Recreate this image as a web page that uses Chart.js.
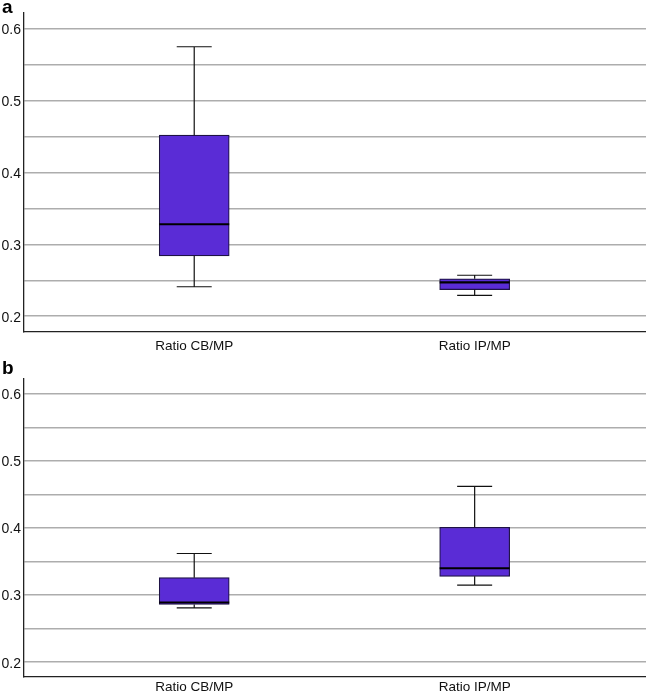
<!DOCTYPE html>
<html>
<head>
<meta charset="utf-8">
<script src="https://cdn.jsdelivr.net/npm/chart.js@4/dist/chart.umd.min.js"></script>
<style>
  html, body { margin: 0; padding: 0; background: #fff; }
  body { width: 646px; height: 695px; position: relative; overflow: hidden; font-family: "Liberation Sans", Arial, sans-serif; }
  .panel { position: absolute; left: 0; width: 646px; }
  .tag { position: absolute; left: 2px; font-weight: bold; font-size: 19px; line-height: 1; color: #000; }
  canvas { display: block; }
</style>
</head>
<body>
<div class="panel" style="top:0;height:356px;"><canvas id="chartA" width="646" height="356"></canvas></div>
<div class="panel" style="top:356px;height:339px;"><canvas id="chartB" width="646" height="339"></canvas></div>
<div class="tag" style="top:-3px;">a</div>
<div class="tag" style="top:358px;">b</div>

<script>
const categories = ['Ratio CB/MP', 'Ratio IP/MP'];

// panel a
const aMin = [0.241, 0.229];
const aQ1 = [0.284, 0.237];
const aMed = [0.328, 0.247];
const aQ3 = [0.452, 0.252];
const aMax = [0.575, 0.257];

// panel b
const bMin = [0.281, 0.315];
const bQ1 = [0.286, 0.328];
const bMed = [0.289, 0.340];
const bQ3 = [0.326, 0.401];
const bMax = [0.362, 0.462];

const yTicks = [0.2, 0.25, 0.3, 0.35, 0.4, 0.45, 0.5, 0.55, 0.6];
const yTickLabels = ['0.2', '', '0.3', '', '0.4', '', '0.5', '', '0.6'];

const boxFill = '#5a2cd6';
const boxLine = '#1e1245';

// whiskers + median drawn from the chart's own scales
const boxWhiskers = {
  id: 'boxWhiskers',
  afterDatasetsDraw(chart, args, opts) {
    const ctx = chart.ctx;
    const x = chart.scales.x, y = chart.scales.y;
    ctx.save();
    categories.forEach((c, i) => {
      const cx = x.getPixelForValue(i + 1);
      const half = 35, cap = 17.5;
      ctx.strokeStyle = '#111';
      ctx.lineWidth = 1.2;
      ctx.beginPath();
      // upper whisker
      ctx.moveTo(cx, y.getPixelForValue(opts.q3[i]));
      ctx.lineTo(cx, y.getPixelForValue(opts.max[i]));
      ctx.moveTo(cx - cap, y.getPixelForValue(opts.max[i]));
      ctx.lineTo(cx + cap, y.getPixelForValue(opts.max[i]));
      // lower whisker
      ctx.moveTo(cx, y.getPixelForValue(opts.q1[i]));
      ctx.lineTo(cx, y.getPixelForValue(opts.min[i]));
      ctx.moveTo(cx - cap, y.getPixelForValue(opts.min[i]));
      ctx.lineTo(cx + cap, y.getPixelForValue(opts.min[i]));
      ctx.stroke();
      // median
      ctx.lineWidth = 2.2;
      ctx.strokeStyle = '#000';
      ctx.beginPath();
      ctx.moveTo(cx - half, y.getPixelForValue(opts.med[i]));
      ctx.lineTo(cx + half, y.getPixelForValue(opts.med[i]));
      ctx.stroke();
    });
    ctx.restore();
  }
};

function makeChart(id, mins, q1s, meds, q3s, maxs, topPad, xHeight, labelPad) {
  const ctx = document.getElementById(id).getContext('2d');
  return new Chart(ctx, {
    type: 'bar',
    data: {
      datasets: [{
        data: categories.map((c, i) => ({ x: i + 1, y: [q1s[i], q3s[i]] })),
        backgroundColor: boxFill,
        borderColor: boxLine,
        borderWidth: 1.2,
        borderSkipped: false,
        barThickness: 70
      }]
    },
    options: {
      responsive: false,
      animation: false,
      layout: { padding: { top: topPad, left: 0, right: 0, bottom: 0 } },
      plugins: {
        legend: { display: false },
        tooltip: { enabled: false },
        boxWhiskers: { min: mins, q1: q1s, med: meds, q3: q3s, max: maxs }
      },
      scales: {
        x: {
          type: 'linear',
          offset: false,
          min: 0.393,
          max: 2.611,
          afterBuildTicks: s => { s.ticks = categories.map((c, i) => ({ value: i + 1 })); },
          afterFit: s => { s.height = xHeight; },
          ticks: {
            autoSkip: false,
            maxRotation: 0,
            padding: labelPad,
            color: '#111',
            font: { family: 'Liberation Sans', size: 13.5 },
            callback: v => categories[v - 1]
          },
          grid: { display: false, drawTicks: false, offset: false },
          border: { display: true, color: '#222', width: 1.3 }
        },
        y: {
          min: 0.178,
          max: 0.622,
          afterBuildTicks: s => { s.ticks = yTicks.map(v => ({ value: v })); },
          afterFit: s => { s.width = 24; },
          ticks: {
            padding: 3,
            labelOffset: 1.5,
            color: '#111',
            font: { family: 'Liberation Sans', size: 14 },
            callback: (v, i) => yTickLabels[i]
          },
          grid: { color: '#adadad', lineWidth: 1.5, drawTicks: false },
          border: { display: true, color: '#222', width: 1.3 }
        }
      }
    },
    plugins: [boxWhiskers]
  });
}

makeChart('chartA', aMin, aQ1, aMed, aQ3, aMax, 13, 24, 6);
makeChart('chartB', bMin, bQ1, bMed, bQ3, bMax, 23, 18, 2);
</script>
</body>
</html>
